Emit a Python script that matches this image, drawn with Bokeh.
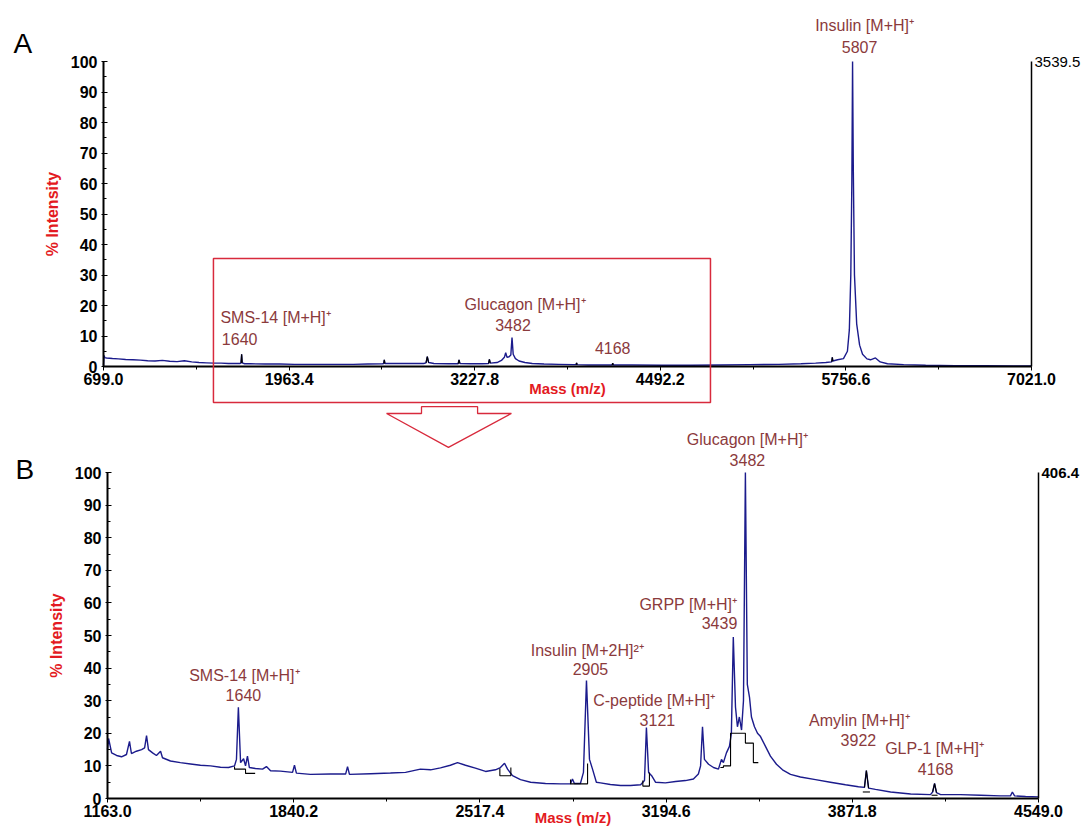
import numpy as np
from bokeh.plotting import figure
from bokeh.layouts import column
from bokeh.models import (FixedTicker, PrintfTickFormatter, LinearAxis, Range1d, Label,
                          BoxAnnotation, PolyAnnotation)
from bokeh.embed import file_html
from bokeh.resources import INLINE

# ---------------- data: panel A (full spectrum) ----------------
A_MASS = [699, 703, 708, 720, 760, 800, 850, 900, 950, 1000,
          1050, 1100, 1150, 1200, 1250, 1300, 1350, 1400, 1450, 1500,
          1550, 1600, 1630, 1636, 1640, 1644, 1660, 1700, 1800, 1900,
          2000, 2100, 2200, 2300, 2400, 2500, 2600, 2608, 2612, 2616,
          2700, 2800, 2880, 2896, 2905, 2914, 2950, 3050, 3115, 3121,
          3127, 3200, 3280, 3322, 3328, 3334, 3380, 3410, 3430, 3439,
          3448, 3462, 3474, 3482, 3490, 3505, 3530, 3570, 3620, 3700,
          3800, 3900, 3918, 3922, 3926, 4000, 4100, 4164, 4168, 4172,
          4300, 4500, 4700, 4900, 5100, 5300, 5450, 5550, 5620, 5660,
          5664, 5668, 5700, 5740, 5767, 5780, 5790, 5797, 5802, 5807,
          5815, 5830, 5850, 5870, 5900, 5924, 5958, 5990, 6040, 6150,
          6300, 6500, 6700, 6900, 7021]
A_INT = [0.3, 3.6, 2.9, 2.8, 2.6, 2.5, 2.3, 2.2, 2.1, 1.9,
         1.8, 2.0, 1.7, 1.6, 1.9, 1.5, 1.3, 1.2, 1.1, 1.1,
         1.0, 1.0, 1.0, 1.2, 4.0, 1.2, 0.9, 0.9, 0.8, 0.8,
         0.7, 0.7, 0.7, 0.7, 0.7, 0.8, 0.9, 1.0, 2.2, 1.0,
         1.0, 1.0, 1.0, 1.2, 3.2, 1.3, 1.0, 0.9, 0.9, 2.2,
         1.0, 0.9, 0.9, 1.0, 2.3, 1.1, 1.3, 2.0, 3.0, 4.5,
         3.0, 3.2, 3.8, 9.5, 4.0, 2.6, 1.8, 1.3, 1.0, 0.8,
         0.7, 0.6, 0.6, 1.2, 0.6, 0.5, 0.5, 0.5, 1.1, 0.5,
         0.5, 0.4, 0.4, 0.5, 0.6, 0.7, 0.9, 1.1, 1.3, 1.5,
         3.0, 1.8, 2.2, 2.6, 5.0, 12.0, 30.0, 60.0, 100.0, 65.0,
         30.0, 14.0, 7.0, 4.0, 2.5, 2.2, 2.8, 1.5, 0.9, 0.6,
         0.4, 0.3, 0.3, 0.2, 0.2]
A_XTICKS = [699.0, 1963.4, 3227.8, 4492.2, 5756.6, 7021.0]
A_FULL_SCALE = "3539.5"
A_PEAK_AT = [1640, 3482, 4168, 5802]
A_PEAK_NAMES = ["SMS-14 [M+H]\u207a", "Glucagon [M+H]\u207a", "", "Insulin [M+H]\u207a"]
A_PEAK_MZ = ["1640", "3482", "4168", "5807"]
A_BLACK_RANGES = [(1632, 1648), (2604, 2620), (2890, 2920), (3110, 3132),
                  (3318, 3338), (3914, 3930), (4160, 4176), (5655, 5672)]
ZOOM_BOX = (1448, 4834)          # m/z span marked by the red box in A

# ---------------- data: panel B (zoom) ----------------
B_MASS = [1163, 1167, 1178, 1196, 1214, 1232, 1243, 1250, 1268, 1287,
          1298, 1305, 1312, 1327, 1341, 1356, 1363, 1392, 1428, 1465,
          1501, 1538, 1574, 1603, 1625, 1632, 1639, 1647, 1658, 1665,
          1672, 1679, 1701, 1727, 1741, 1756, 1792, 1836, 1843, 1850,
          1901, 1974, 2029, 2036, 2043, 2120, 2192, 2247, 2301, 2338,
          2374, 2410, 2436, 2465, 2501, 2538, 2574, 2592, 2607, 2618,
          2636, 2665, 2702, 2756, 2811, 2847, 2854, 2861, 2883, 2894,
          2905, 2916, 2927, 2941, 2956, 2992, 3029, 3065, 3102, 3116,
          3123, 3131, 3142, 3156, 3192, 3229, 3265, 3294, 3312, 3320,
          3327, 3334, 3349, 3367, 3385, 3396, 3403, 3414, 3425, 3432,
          3439, 3447, 3454, 3461, 3469, 3476, 3483, 3490, 3498, 3505,
          3516, 3527, 3538, 3556, 3574, 3596, 3618, 3647, 3683, 3738,
          3792, 3847, 3894, 3916, 3923, 3931, 3956, 4011, 4084, 4156,
          4164, 4171, 4178, 4193, 4265, 4338, 4411, 4447, 4454, 4462,
          4502, 4549]
B_INT = [15.0, 18.4, 14.0, 13.2, 12.8, 13.5, 17.5, 13.8, 14.5, 15.0,
         15.5, 19.3, 15.0, 14.0, 13.2, 14.5, 12.5, 11.5, 11.0, 10.6,
         10.2, 10.0, 9.6, 9.5, 10.0, 12.0, 28.0, 11.0, 12.2, 10.0,
         13.0, 9.5, 9.2, 9.0, 9.8, 8.5, 8.4, 8.0, 10.2, 7.8,
         7.4, 7.5, 7.5, 9.8, 7.4, 7.6, 7.8, 8.0, 9.0, 8.8,
         9.4, 10.2, 11.0, 10.2, 9.3, 8.3, 8.8, 9.5, 10.8, 9.0,
         7.0, 5.8, 5.0, 4.6, 4.5, 4.5, 6.0, 4.6, 4.6, 8.0,
         36.2, 12.0, 9.0, 5.0, 4.8, 4.3, 4.0, 4.0, 4.2, 5.5,
         21.8, 8.0, 7.0, 5.0, 4.8, 5.2, 5.5, 6.0, 7.5, 10.0,
         22.0, 12.0, 10.5, 9.5, 9.0, 12.0, 11.0, 14.0, 16.0, 20.0,
         49.5, 28.0, 22.0, 25.0, 21.0, 30.0, 100.0, 35.0, 31.0, 25.0,
         22.0, 20.0, 19.0, 16.0, 13.0, 10.5, 8.8, 7.4, 6.6, 5.8,
         5.0, 4.2, 3.6, 3.4, 8.6, 3.2, 2.8, 2.0, 1.4, 1.2,
         2.0, 4.6, 1.8, 1.2, 1.2, 1.0, 0.8, 0.8, 2.0, 0.8,
         0.6, 0.5]
B_XTICKS = [1163.0, 1840.2, 2517.4, 3194.6, 3871.8, 4549.0]
B_FULL_SCALE = "406.4"
B_PEAK_AT = [1639, 2905, 3123, 3439, 3483, 3923, 4171]
B_PEAK_NAMES = ["SMS-14 [M+H]\u207a", "Insulin  [M+2H]\u00b2\u207a", "C-peptide  [M+H]\u207a",
                "GRPP [M+H]\u207a", "Glucagon [M+H]\u207a", "Amylin [M+H]\u207a", "GLP-1 [M+H]\u207a"]
B_PEAK_MZ = ["1640", "2905", "3121", "3439", "3482", "3922", "4168"]
B_BLACK_RANGES = [(3916, 3931), (4164, 4178)]
B_STEP_X = [[1625, 1625, 1665, 1665, 1700], [2590, 2590, 2630, 2630], [2847, 2847, 2909, 2909],
            [3110, 3110, 3134, 3134], [3392, 3403, 3403, 3429, 3429, 3483, 3483, 3512, 3512, 3530],
            [3910, 3936], [4160, 4182]]
B_STEP_Y = [[9.8, 9.0, 9.0, 7.7, 7.7], [9.2, 7.0, 7.0, 9.5], [5.8, 4.5, 4.5, 10.7],
            [5.5, 3.8, 3.8, 8.0], [9.5, 9.5, 10.0, 10.0, 20.0, 20.0, 17.0, 17.0, 11.0, 11.0],
            [2.0, 2.0], [1.0, 1.0]]
Y_TICKS = list(range(0, 101, 10))

# ---------------- styling / layout ----------------
FONT = "Liberation Sans"
AXIS_RED = "#e31a22"
LABEL_COLOR = "#8b3a3c"
TRACE = "#1b1b8c"
BOX_RED = "#d82a3c"
W = 1081

# label placement: (name dx, name dy, number dx, number dy, align) in pixels
A_LABEL_POS = [(34, 37, -2, 15, "center"), (13, 33, 1, 13, "center"),
               (0, 0, 0, 15, "center"), (12, 36, 7, 15, "center")]
B_LABEL_POS = [(6, 32, 5, 12, "center"), (3, 30, 4, 11, "center"), (10, 27, 11, 7, "center"),
               (4, 33, 4, 14, "right"), (2, 33, 2, 13, "center"), (-7, 50, -8, 30, "center"),
               (0, 35, 1, 15, "center")]


def panel(mass, inten, xticks, full_scale, scale_bold, height, box_px, xlab_standoff,
          black_ranges, peak_at, names, mzs, label_pos, letter, letter_px):
    # box_px: pixel rectangle (left, right, top, bottom) of the axes inside the canvas
    l, r, t, b = box_px
    xppu = (r - l) / (xticks[-1] - xticks[0])
    yppu = (b - t) / 100.0
    x_rng = Range1d(xticks[0] - l / xppu, xticks[-1] + (W - r) / xppu)
    y_rng = Range1d(-(height - b) / yppu, 100 + t / yppu)
    p = figure(width=W, height=height, output_backend="svg", toolbar_location=None,
               x_range=x_rng, y_range=y_rng, title=None, min_border=0,
               x_axis_label="Mass (m/z)", y_axis_label="% Intensity")
    p.grid.visible = False
    p.outline_line_color = None

    xa = p.xaxis[0]
    xa.fixed_location = 0
    xa.bounds = (xticks[0], xticks[-1])
    xa.ticker = FixedTicker(ticks=xticks,
                            minor_ticks=[(a + c) / 2 for a, c in zip(xticks[:-1], xticks[1:])])
    xa.formatter = PrintfTickFormatter(format="%.1f")
    ya = p.yaxis[0]
    ya.fixed_location = xticks[0]
    ya.bounds = (0, 100)
    ya.ticker = FixedTicker(ticks=Y_TICKS, minor_ticks=[v + 5 for v in Y_TICKS[:-1]])
    ya.formatter = PrintfTickFormatter(format="%d")
    for ax in (xa, ya):
        ax.axis_line_width = 2
        ax.axis_line_color = "black"
        ax.major_label_text_font = FONT
        ax.major_label_text_font_style = "bold"
        ax.major_label_text_font_size = "16px"
        ax.major_label_text_color = "black"
        ax.axis_label_text_font = FONT
        ax.axis_label_text_font_style = "bold"
        ax.axis_label_text_color = AXIS_RED
    xa.major_tick_out, xa.major_tick_in = 4, 0
    xa.minor_tick_out, xa.minor_tick_in = 3, 0
    xa.major_label_standoff = 2
    xa.axis_label_standoff = xlab_standoff
    xa.axis_label_text_font_size = "15px"
    ya.major_tick_out, ya.major_tick_in = 2, 4
    ya.minor_tick_out, ya.minor_tick_in = 0, 3
    ya.major_label_standoff = 4
    ya.axis_label_standoff = 7
    ya.axis_label_text_font_size = "16px"

    ra = LinearAxis(ticker=FixedTicker(ticks=[100]), major_label_overrides={100: full_scale},
                    fixed_location=xticks[-1], bounds=(0, 100))
    ra.axis_line_width = 1.5
    ra.major_tick_out = ra.major_tick_in = 0
    ra.minor_tick_out = ra.minor_tick_in = 0
    ra.major_label_standoff = 3
    ra.major_label_text_font = FONT
    ra.major_label_text_font_size = "15px"
    ra.major_label_text_font_style = "bold" if scale_bold else "normal"
    ra.major_label_text_color = "black"
    p.add_layout(ra, "right")

    p.line(mass, inten, line_color=TRACE, line_width=1.4)
    bx, by = [], []
    for lo, hi in black_ranges:
        seg = [(m, v) for m, v in zip(mass, inten) if lo <= m <= hi]
        bx.append([s[0] for s in seg])
        by.append([s[1] for s in seg])
    p.multi_line(bx, by, line_color="black", line_width=1.1)

    for at, name, mz, (ndx, ndy, mdx, mdy, align) in zip(peak_at, names, mzs, label_pos):
        yv = float(np.interp(at, mass, inten))
        if name:
            p.add_layout(Label(x=at, y=yv, x_offset=ndx, y_offset=ndy, text=name,
                               text_align=align, text_baseline="middle", text_font=FONT,
                               text_font_size="16px", text_color=LABEL_COLOR))
        p.add_layout(Label(x=at, y=yv, x_offset=mdx, y_offset=mdy, text=mz,
                           text_align=align, text_baseline="middle", text_font=FONT,
                           text_font_size="16px", text_color=LABEL_COLOR))
    lx, lbase = letter_px
    p.add_layout(Label(x=xticks[0], y=100, x_offset=lx - l, y_offset=t - lbase, text=letter,
                       text_align="left", text_baseline="alphabetic", text_font=FONT,
                       text_font_size="28px", text_color="black"))
    return p


pA = panel(A_MASS, A_INT, A_XTICKS, A_FULL_SCALE, False, 404, (103, 1031, 61, 366), -8,
           A_BLACK_RANGES, A_PEAK_AT, A_PEAK_NAMES, A_PEAK_MZ, A_LABEL_POS, "A", (13, 43))
pB = panel(B_MASS, B_INT, B_XTICKS, B_FULL_SCALE, True, 423, (107, 1038, 68, 394), -11,
           B_BLACK_RANGES, B_PEAK_AT, B_PEAK_NAMES, B_PEAK_MZ, B_LABEL_POS, "B", (15, 65))
pB.multi_line(B_STEP_X, B_STEP_Y, line_color="black", line_width=1.1)

# red box in A marking the zoomed region
pA.add_layout(BoxAnnotation(left=ZOOM_BOX[0], right=ZOOM_BOX[1], bottom=-11.8, top=35.4,
                            fill_alpha=0, line_alpha=1.0, line_color=BOX_RED, line_width=1.5))
# hollow arrow pointing from A down to B (drawn in B's space above its axes)
pB.add_layout(PolyAnnotation(xs=[2305, 2509, 2509, 2632, 2403, 2178, 2305, 2305],
                             ys=[120.2, 120.2, 118.1, 118.1, 107.7, 118.1, 118.1, 120.2],
                             fill_alpha=0, line_alpha=1.0, line_color=BOX_RED, line_width=1.3))

layout = column(pA, pB)
open("out.html", "w").write(file_html(layout, INLINE))
